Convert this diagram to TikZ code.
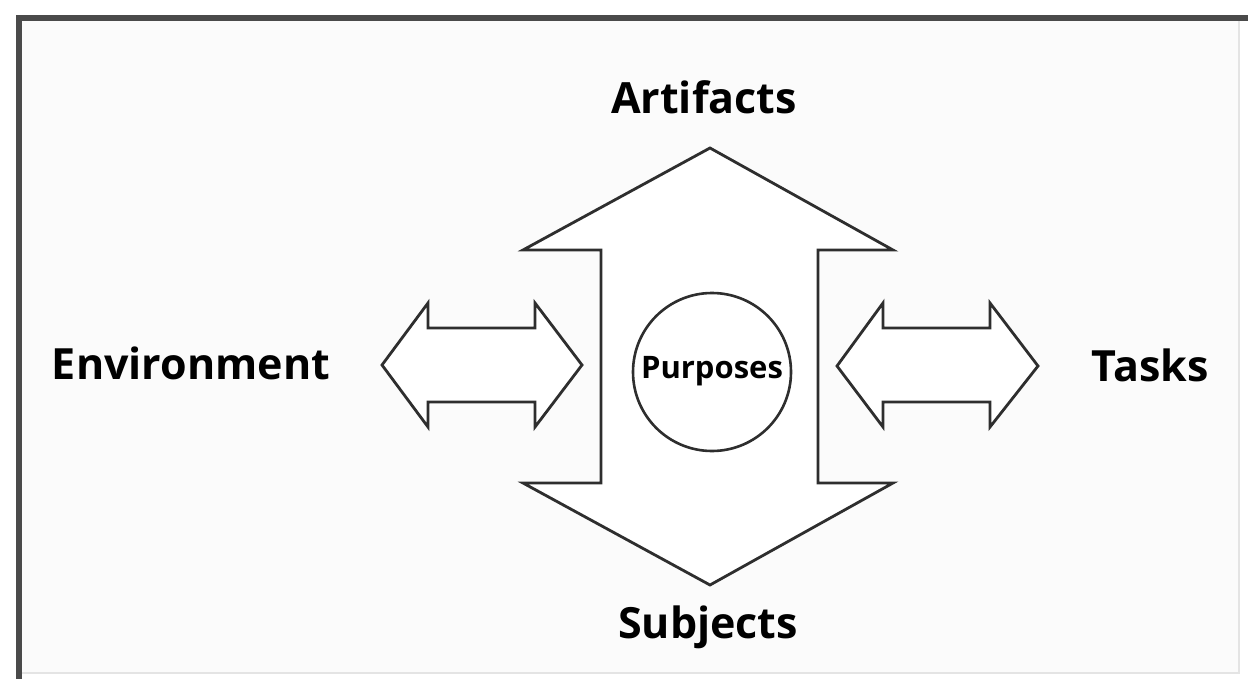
\documentclass[tikz,border=0pt]{standalone}
\usepackage{fontspec}
\setmainfont{Open Sans}
\definecolor{ink}{HTML}{2E2E2E}
\definecolor{frame}{HTML}{4A4A4A}
\definecolor{paper}{HTML}{FBFBFB}
\definecolor{faint}{HTML}{E4E4E4}
\tikzset{
  shapeline/.style={draw=ink, line width=2.8pt, line join=miter, fill=white},
  biglabel/.style={font=\fontsize{43}{46}\selectfont\bfseries, text=black, inner sep=0pt},
  smalllabel/.style={font=\fontsize{31}{34}\selectfont\bfseries, text=black, inner sep=0pt}
}
\begin{document}
\begin{tikzpicture}[x=1pt,y=-1pt]
\useasboundingbox (0,0) rectangle (1248,679);
\fill[white] (0,0) rectangle (1248,679);
\fill[paper] (19,18) rectangle (1239,673);
\draw[faint, line width=2pt] (1239,18) -- (1239,673) -- (19,673);
\draw[frame, line width=6pt] (19,679) -- (19,18) -- (1248,18);

% vertical double arrow
\draw[shapeline] (710,148) -- (893,250) -- (818,250) -- (818,483) -- (893,483)
  -- (710,585) -- (523,483) -- (601,483) -- (601,250) -- (523,250) -- cycle;

% left double arrow
\draw[shapeline] (382,365) -- (428,303) -- (428,328) -- (535,328) -- (535,303)
  -- (582,365) -- (535,427) -- (535,402) -- (428,402) -- (428,427) -- cycle;

% right double arrow
\draw[shapeline] (837,366) -- (883,303) -- (883,328) -- (990,328) -- (990,303)
  -- (1038,366) -- (990,427) -- (990,402) -- (883,402) -- (883,427) -- cycle;

\node[circle, draw=ink, line width=2.6pt, fill=white, minimum size=158pt, inner sep=0pt] (purp) at (712,372) {};
\node[smalllabel] (purpt) at (712,371) {Purposes};

\node[biglabel] (art) at (704,97) {Artifacts};
\node[biglabel] (env) at (191,363) {Environment};
\node[biglabel] (tasks) at (1150,365) {Tasks};
\node[biglabel] (subj) at (708,627) {Subjects};
\end{tikzpicture}
\end{document}
